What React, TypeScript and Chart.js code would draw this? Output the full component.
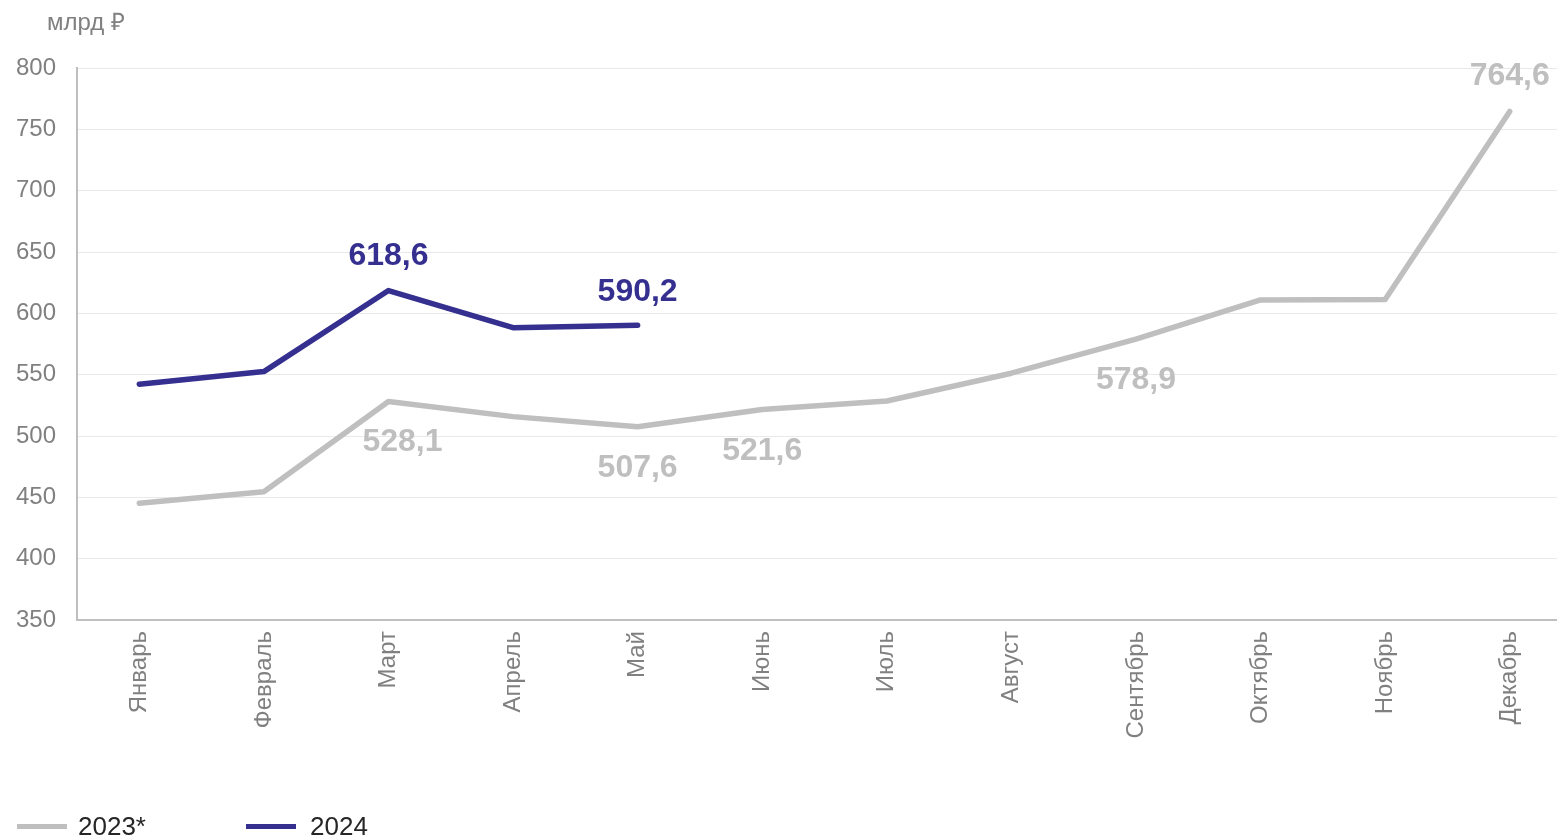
import React, { useEffect, useRef } from "react";
import { Chart, registerables } from "chart.js";

Chart.register(...registerables);

// ---------- data ----------
const months = [
  "Январь", "Февраль", "Март", "Апрель", "Май", "Июнь",
  "Июль", "Август", "Сентябрь", "Октябрь", "Ноябрь", "Декабрь",
];
const values2023 = [445.1, 454.6, 528.1, 515.8, 507.6, 521.6, 528.5, 551.2, 578.9, 610.9, 611.2, 764.6];
const values2024 = [542.2, 552.5, 618.6, 588.3, 590.2];
const seriesNames = ["2023*", "2024"];
const yMin = 350;
const yMax = 800;
const yStep = 50;
const unitLabel = "млрд ₽";
const labeled2023 = [2, 4, 5, 8, 11];
const labeled2024 = [2, 4];

// ---------- styles ----------
const FONT = '"Liberation Sans", Arial, sans-serif';
const GRAY = "#BFBFBF";
const BLUE = "#35308F";
const TICK_COLOR = "#808080";
const colors = [GRAY, BLUE];

// label placement per dataset/index (style, not data)
const labelPlacement: Record<string, { dy: number; dx?: number }> = {
  "0-2": { dy: 41, dx: 14 },
  "0-4": { dy: 41 },
  "0-5": { dy: 42 },
  "0-8": { dy: 41 },
  "0-11": { dy: -35 },
  "1-2": { dy: -34 },
  "1-4": { dy: -33 },
};

const fmt = (v: number) => v.toFixed(1).replace(".", ",");

const dataLabelPlugin = {
  id: "dataLabels",
  afterDatasetsDraw(chart: any) {
    const ctx = chart.ctx;
    const sets = [labeled2023, labeled2024];
    ctx.save();
    ctx.font = `bold 32px ${FONT}`;
    ctx.textAlign = "center";
    ctx.textBaseline = "middle";
    sets.forEach((idxs, di) => {
      const meta = chart.getDatasetMeta(di);
      const data = chart.data.datasets[di].data as number[];
      idxs.forEach((i) => {
        const el = meta.data[i];
        if (!el) return;
        const p = labelPlacement[`${di}-${i}`] || { dy: -34 };
        ctx.fillStyle = colors[di];
        ctx.fillText(fmt(data[i]), el.x + (p.dx || 0), el.y + p.dy);
      });
    });
    ctx.restore();
  },
};

export default function App() {
  const ref = useRef<HTMLCanvasElement>(null);

  useEffect(() => {
    if (!ref.current) return;
    const chart = new Chart(ref.current, {
      type: "line",
      data: {
        labels: months,
        datasets: [
          {
            label: seriesNames[0],
            data: values2023,
            borderColor: GRAY,
            backgroundColor: GRAY,
            borderWidth: 5.5,
            borderCapStyle: "round",
            borderJoinStyle: "round",
            pointRadius: 0,
            tension: 0,
          },
          {
            label: seriesNames[1],
            data: values2024,
            borderColor: BLUE,
            backgroundColor: BLUE,
            borderWidth: 5.5,
            borderCapStyle: "round",
            borderJoinStyle: "round",
            pointRadius: 0,
            tension: 0,
          },
        ],
      },
      options: {
        animation: false,
        responsive: false,
        devicePixelRatio: 1,
        layout: { padding: { top: 68, right: 28, bottom: 0, left: 0 } },
        plugins: {
          legend: { display: false },
          tooltip: { enabled: false },
          title: { display: false },
        },
        scales: {
          x: {
            offset: true,
            grid: { display: false, drawTicks: false },
            border: { display: true, color: GRAY, width: 2 },
            ticks: {
              autoSkip: false,
              minRotation: 90,
              maxRotation: 90,
              padding: 11,
              color: TICK_COLOR,
              font: { family: FONT, size: 24 },
            },
            afterFit: (s: any) => {
              s.height = 216;
            },
          },
          y: {
            min: yMin,
            max: yMax,
            grid: { color: "#E9E9E9", lineWidth: 1, drawTicks: false },
            border: { display: true, color: GRAY, width: 2 },
            ticks: {
              stepSize: yStep,
              padding: 21,
              color: TICK_COLOR,
              font: { family: FONT, size: 24 },
            },
            afterFit: (s: any) => {
              s.width = 77;
            },
          },
        },
      },
      plugins: [dataLabelPlugin],
    });
    return () => chart.destroy();
  }, []);

  const legendItems = [
    { name: seriesNames[0], color: colors[0], lineLeft: 17, textLeft: 78 },
    { name: seriesNames[1], color: colors[1], lineLeft: 246, textLeft: 310 },
  ];

  return (
    <div
      style={{
        position: "absolute",
        left: 0,
        top: 0,
        width: 1557,
        height: 836,
        overflow: "hidden",
        background: "#ffffff",
        fontFamily: FONT,
      }}
    >
      <canvas
        ref={ref}
        width={1600}
        height={836}
        style={{ position: "absolute", left: 0, top: 0, width: 1600, height: 836 }}
      />
      <div
        style={{
          position: "absolute",
          left: 47,
          top: 10,
          fontSize: 24,
          lineHeight: "24px",
          color: TICK_COLOR,
          whiteSpace: "nowrap",
        }}
      >
        {unitLabel}
      </div>
      {legendItems.map((it) => (
        <React.Fragment key={it.name}>
          <div
            style={{
              position: "absolute",
              left: it.lineLeft,
              top: 824,
              width: 50,
              height: 5,
              background: it.color,
            }}
          />
          <div
            style={{
              position: "absolute",
              left: it.textLeft,
              top: 813,
              fontSize: 26,
              lineHeight: "26px",
              color: "#262626",
              whiteSpace: "nowrap",
            }}
          >
            {it.name}
          </div>
        </React.Fragment>
      ))}
    </div>
  );
}
